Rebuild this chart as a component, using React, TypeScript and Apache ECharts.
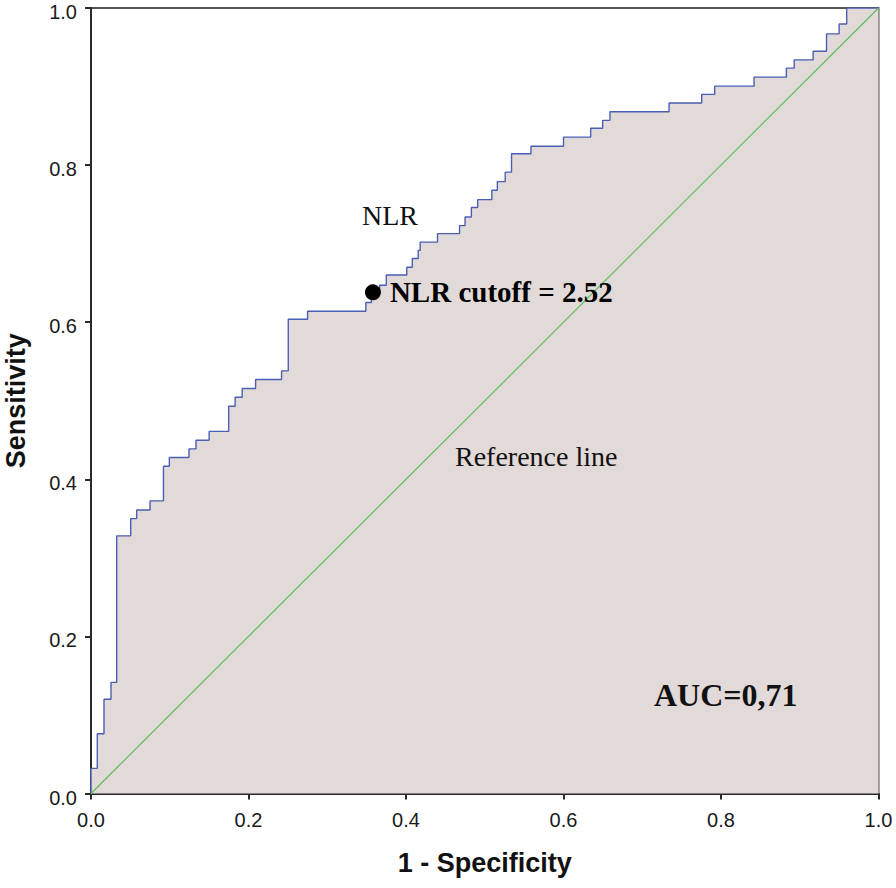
import React, { useEffect, useRef } from "react";
import * as echarts from "echarts";

// ROC curve corner points (1 - specificity, sensitivity), stepped vertically then horizontally
const rocFpr = [
  0, 0.008, 0.0165, 0.0254, 0.0326, 0.0504, 0.058, 0.075, 0.092, 0.0995,
  0.1244, 0.1333, 0.15, 0.1748, 0.183, 0.192, 0.209, 0.242, 0.2505, 0.275,
  0.349, 0.356, 0.3665, 0.375, 0.401, 0.408, 0.4155, 0.418, 0.44, 0.468,
  0.475, 0.483, 0.491, 0.509, 0.516, 0.526, 0.534, 0.5587, 0.6, 0.6345,
  0.6497, 0.659, 0.734, 0.7755, 0.792, 0.842, 0.883, 0.893, 0.917, 0.934,
  0.95, 0.9596, 1.0,
];
const rocTpr = [
  0, 0.032, 0.076, 0.12, 0.1415, 0.328, 0.35, 0.361, 0.3725, 0.4167,
  0.4277, 0.4387, 0.4497, 0.461, 0.493, 0.5045, 0.5155, 0.527, 0.538, 0.6037,
  0.614, 0.625, 0.636, 0.647, 0.66, 0.67, 0.681, 0.6915, 0.702, 0.7127,
  0.723, 0.734, 0.746, 0.756, 0.768, 0.779, 0.791, 0.8145, 0.824, 0.8356,
  0.847, 0.857, 0.868, 0.879, 0.89, 0.9005, 0.912, 0.9234, 0.934, 0.945,
  0.967, 0.9796, 1.0,
];
const referenceX = [0, 1];
const referenceY = [0, 1];
const cutoffPoint = [0.358, 0.638];
const cutoffLabel = "NLR cutoff = 2.52";
const curveLabel = "NLR";
const referenceLabel = "Reference line";
const aucLabel = "AUC=0,71";
const xTitle = "1 - Specificity";
const yTitle = "Sensitivity";

export default function App() {
  const ref = useRef<HTMLDivElement>(null);

  useEffect(() => {
    document.body.style.margin = "0";
    if (!ref.current) return;
    const chart = echarts.init(ref.current, null, { renderer: "svg" });
    const serif = "'Liberation Serif', 'Times New Roman', serif";
    const sans = "'Liberation Sans', Arial, sans-serif";
    const axisCommon = {
      type: "value" as const,
      min: 0,
      max: 1,
      interval: 0.2,
      splitLine: { show: false },
      axisLine: { show: true, lineStyle: { color: "#2a2a2a", width: 2 } },
      axisTick: { show: true, inside: false, length: 6, lineStyle: { color: "#2a2a2a", width: 2 } },
      axisLabel: {
        formatter: (v: number) => v.toFixed(1),
        fontSize: 20,
        fontFamily: sans,
        color: "#1a1a1a",
      },
      nameLocation: "middle" as const,
      nameTextStyle: { fontSize: 27, fontWeight: "bold" as const, fontFamily: sans, color: "#111" },
    };
    chart.setOption({
      animation: false,
      backgroundColor: "#ffffff",
      grid: {
        left: 91,
        top: 8,
        right: 17.5,
        bottom: 94.5,
        outerBoundsMode: "none",
        containLabel: false,
        show: true,
        borderColor: "#555",
        borderWidth: 2,
        backgroundColor: "transparent",
      },
      xAxis: {
        ...axisCommon,
        name: xTitle,
        nameGap: 56,
        axisLabel: { ...axisCommon.axisLabel, margin: 16 },
      },
      yAxis: {
        ...axisCommon,
        name: yTitle,
        nameGap: 62,
        axisLabel: { ...axisCommon.axisLabel, margin: 14, verticalAlign: "top", lineHeight: 8 },
      },
      series: [
        {
          type: "line",
          step: "start",
          data: rocFpr.map((x, i) => [x, rocTpr[i]]),
          symbol: "none",
          lineStyle: { color: "#4a5fb3", width: 1.4 },
          areaStyle: { color: "#e2d9d9", opacity: 1 },
          z: 2,
        },
        {
          type: "line",
          data: referenceX.map((x, i) => [x, referenceY[i]]),
          symbol: "none",
          lineStyle: { color: "#5cbf5c", width: 1.2 },
          z: 3,
        },
        {
          type: "scatter",
          data: [cutoffPoint],
          symbol: "circle",
          symbolSize: 16,
          itemStyle: { color: "#000", opacity: 1 },
          label: {
            show: true,
            position: "right",
            distance: 9,
            formatter: cutoffLabel,
            fontFamily: serif,
            fontWeight: "bold",
            fontSize: 29,
            color: "#000",
            opacity: 1,
          },
          z: 5,
        },
      ],
      graphic: [
        {
          type: "text",
          x: 362,
          y: 215,
          style: { text: curveLabel, font: `28px ${serif}`, fill: "#111", textVerticalAlign: "middle" },
          z: 10,
        },
        {
          type: "text",
          x: 455,
          y: 456,
          style: { text: referenceLabel, font: `28px ${serif}`, fill: "#111", textVerticalAlign: "middle" },
          z: 10,
        },
        {
          type: "text",
          x: 654,
          y: 695,
          style: { text: aucLabel, font: `bold 32px ${serif}`, fill: "#111", textVerticalAlign: "middle" },
          z: 10,
        },
      ],
    });
    return () => chart.dispose();
  }, []);

  return <div ref={ref} style={{ width: 896, height: 888 }} />;
}
